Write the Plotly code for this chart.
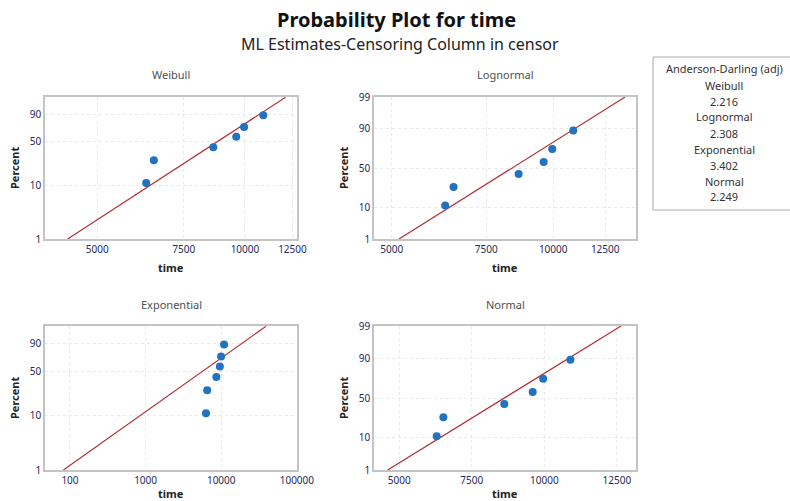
import math
from statistics import NormalDist
import plotly.graph_objects as go

# ---------------- data ----------------
times = [6290, 6520, 8620, 9600, 9960, 10900]
percents = [10.9, 26.6, 42.2, 57.8, 73.4, 89.1]

# fitted lines (end points: time, percent)
weib_fit_time = [4350, 12100]
weib_fit_pct = [1, 99.2]
logn_fit_time = [5160, 13610]
logn_fit_pct = [1, 99]
expo_fit_time = [82, 39000]
expo_fit_pct = [1, 99.2]
norm_fit_time = [4600, 12645]
norm_fit_pct = [1, 99]

x_ticks_lin = [5000, 7500, 10000, 12500]
x_tick_labels_lin = ["5000", "7500", "10000", "12500"]
x_ticks_exp = [100, 1000, 10000, 100000]
x_tick_labels_exp = ["100", "1000", "10000", "100000"]
y_ticks_weib = [1, 10, 50, 90]
y_ticks_prob = [1, 10, 50, 90, 99]

ad_labels = ["Weibull", "Lognormal", "Exponential", "Normal"]
ad_values = ["2.216", "2.308", "3.402", "2.249"]

# ---------------- scales ----------------
nd = NormalDist()


def weib(p):
    return [math.log(-math.log(1 - v / 100.0)) for v in p]


def probit(p):
    return [nd.inv_cdf(v / 100.0) for v in p]


W, H = 790, 501
BLUE = "#2272C3"
RED = "#B3262A"
GRID = "#E8E8E8"
BORDER = "#C4C4C4"
TICKC = "#1F2A5A"
FONT = "Noto Sans"


def px(x):
    return x / W


def py(y):
    return 1 - y / H


fig = go.Figure()

panels = [
    ("Weibull", "x", "y", weib, weib_fit_time, weib_fit_pct),
    ("Lognormal", "x2", "y2", probit, logn_fit_time, logn_fit_pct),
    ("Exponential", "x3", "y3", weib, expo_fit_time, expo_fit_pct),
    ("Normal", "x4", "y4", probit, norm_fit_time, norm_fit_pct),
]

for name, xa, ya, f, ft, fp in panels:
    fig.add_trace(go.Scatter(x=ft, y=f(fp), mode="lines", xaxis=xa, yaxis=ya,
                             line=dict(color=RED, width=1.1), hoverinfo="skip",
                             showlegend=False))
    fig.add_trace(go.Scatter(x=times, y=f(percents), mode="markers", xaxis=xa, yaxis=ya,
                             marker=dict(color=BLUE, size=8), showlegend=False,
                             name=name))

# panel boxes (pixels): left, right, top, bottom, x-title y
boxes = {
    "Weibull": (45, 297, 97, 239, 267),
    "Lognormal": (374, 636, 97, 239, 267),
    "Exponential": (45, 297, 326, 470, 493),
    "Normal": (374, 636, 326, 470, 493),
}

common_x = dict(showline=True, mirror=True, linecolor=BORDER, linewidth=1.5,
                showgrid=True, gridcolor=GRID, griddash="dot", gridwidth=1,
                zeroline=False, ticks="", automargin=False,
                tickfont=dict(size=10, color=TICKC, family=FONT))
common_y = dict(common_x)

wb_top = 1.588
lay = {}
l, r, t, b, _ = boxes["Weibull"]
lay["xaxis"] = dict(common_x, type="log", domain=[px(l), px(r)], anchor="y",
                    range=[math.log10(3911), math.log10(12770)],
                    tickvals=x_ticks_lin, ticktext=x_tick_labels_lin)
lay["yaxis"] = dict(common_y, domain=[py(b), py(t)], anchor="x",
                    range=[weib([1])[0], wb_top],
                    tickvals=weib(y_ticks_weib), ticktext=[str(v) for v in y_ticks_weib])
l, r, t, b, _ = boxes["Lognormal"]
lay["xaxis2"] = dict(common_x, type="log", domain=[px(l), px(r)], anchor="y2",
                     range=[math.log10(4634), math.log10(14268)],
                     tickvals=x_ticks_lin, ticktext=x_tick_labels_lin)
lay["yaxis2"] = dict(common_y, domain=[py(b), py(t)], anchor="x2",
                     range=[probit([1])[0], probit([99])[0]],
                     tickvals=probit(y_ticks_prob), ticktext=[str(v) for v in y_ticks_prob])
l, r, t, b, _ = boxes["Exponential"]
lay["xaxis3"] = dict(common_x, type="log", domain=[px(l), px(r)], anchor="y3",
                     range=[1.67, 5.002],
                     tickvals=x_ticks_exp, ticktext=x_tick_labels_exp)
lay["yaxis3"] = dict(common_y, domain=[py(b), py(t)], anchor="x3",
                     range=[weib([1])[0], wb_top],
                     tickvals=weib(y_ticks_weib), ticktext=[str(v) for v in y_ticks_weib])
l, r, t, b, _ = boxes["Normal"]
lay["xaxis4"] = dict(common_x, domain=[px(l), px(r)], anchor="y4",
                     range=[4128, 13162],
                     tickvals=x_ticks_lin, ticktext=x_tick_labels_lin)
lay["yaxis4"] = dict(common_y, domain=[py(b), py(t)], anchor="x4",
                     range=[probit([1])[0], probit([99])[0]],
                     tickvals=probit(y_ticks_prob), ticktext=[str(v) for v in y_ticks_prob])

fig.update_layout(**lay)

ann = []
ann.append(dict(text="<b>Probability Plot for time</b>", x=px(396), y=py(19), xref="paper", yref="paper",
                showarrow=False, font=dict(size=20, color="#111111", family=FONT),
                xanchor="center", yanchor="middle"))
ann.append(dict(text="ML Estimates-Censoring Column in censor", x=px(400), y=py(44), xref="paper",
                yref="paper", showarrow=False, font=dict(size=16, color="#222222", family=FONT),
                xanchor="center", yanchor="middle"))

for name, (l, r, t, b, ty) in boxes.items():
    cx = (l + r) / 2
    cy = (t + b) / 2
    ann.append(dict(text=name, x=px(cx), y=py(t - 22), xref="paper", yref="paper", showarrow=False,
                    font=dict(size=11, color="#505050", family=FONT), xanchor="center", yanchor="middle"))
    ann.append(dict(text="<b>time</b>", x=px(cx), y=py(ty), xref="paper", yref="paper", showarrow=False,
                    font=dict(size=11, color="#222222", family=FONT), xanchor="center", yanchor="middle"))
    ann.append(dict(text="<b>Percent</b>", x=px(l - 31), y=py(cy), xref="paper", yref="paper", showarrow=False,
                    textangle=-90, font=dict(size=11, color="#222222", family=FONT),
                    xanchor="center", yanchor="middle"))

ann.append(dict(text="Anderson-Darling (adj)", x=px(724), y=py(69), xref="paper", yref="paper",
                showarrow=False, font=dict(size=11, color="#333333", family=FONT),
                xanchor="center", yanchor="middle"))
yy = 85
for lab, val in zip(ad_labels, ad_values):
    ann.append(dict(text=lab, x=px(724), y=py(yy), xref="paper", yref="paper", showarrow=False,
                    font=dict(size=11, color="#333333", family=FONT), xanchor="center", yanchor="middle"))
    ann.append(dict(text=val, x=px(724), y=py(yy + 16), xref="paper", yref="paper", showarrow=False,
                    font=dict(size=11, color="#333333", family=FONT), xanchor="center", yanchor="middle"))
    yy += 32

box_line = dict(color="#A8A8A8", width=1)
shapes = [
    dict(type="line", xref="paper", yref="paper", x0=px(653), x1=1, y0=py(57), y1=py(57), line=box_line),
    dict(type="line", xref="paper", yref="paper", x0=px(653), x1=1, y0=py(210), y1=py(210), line=box_line),
    dict(type="line", xref="paper", yref="paper", x0=px(653), x1=px(653), y0=py(57), y1=py(210), line=box_line),
]

fig.update_layout(
    annotations=ann,
    shapes=shapes,
    width=W, height=H, margin=dict(l=0, r=0, t=0, b=0, pad=0, autoexpand=False),
    paper_bgcolor="white", plot_bgcolor="white",
    font=dict(family=FONT),
    showlegend=False,
)

post = (
    "document.body.style.margin='0px';"
    "document.body.style.overflow='hidden';"
)

fig.write_html("out.html", config={"displayModeBar": False}, post_script=post)
